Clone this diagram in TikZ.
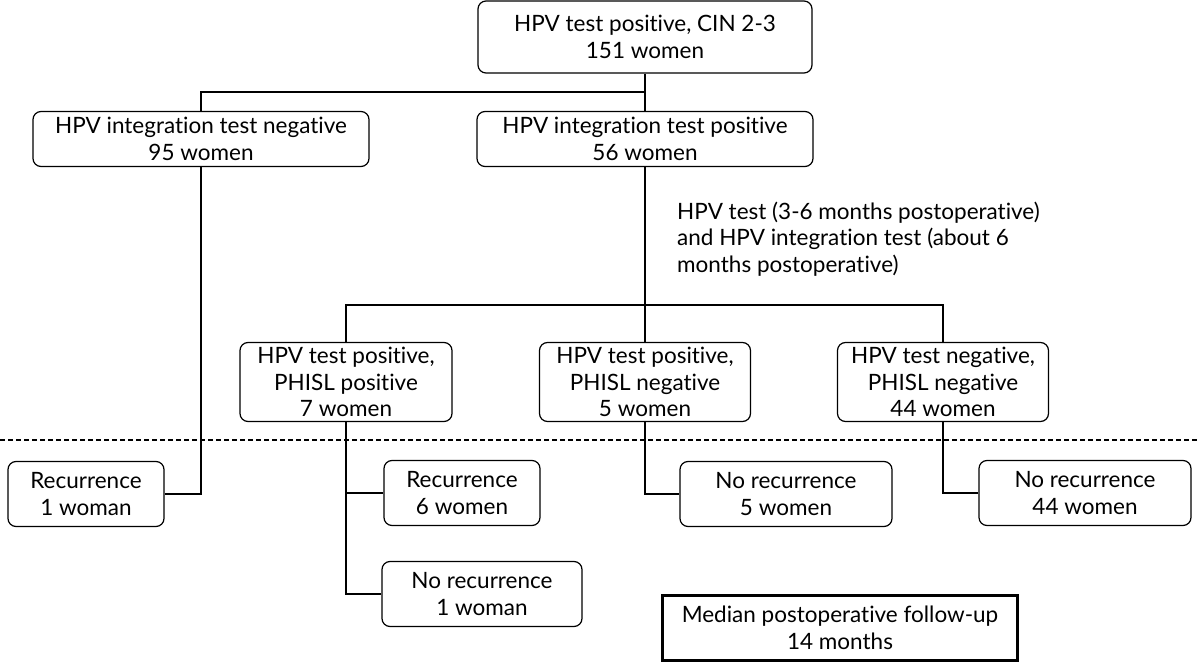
\documentclass[tikz,border=0pt]{standalone}
\usepackage{fontspec}
\setmainfont{Lato}[Ligatures=NoCommon]
\usepackage{tikz}
\tikzstyle{box}=[draw=black, line width=1.2pt, rounded corners=8pt, align=center, inner sep=0pt, font=\fontsize{22.5}{26.5}\selectfont]
\tikzstyle{note}=[align=left, inner sep=0pt, anchor=west, font=\fontsize{22.5}{26.5}\selectfont]
\tikzstyle{total}=[draw=black, line width=3.2pt, align=center, inner sep=0pt, font=\fontsize{22.5}{26.5}\selectfont]
\tikzstyle{edge}=[-, draw=black, line width=1.2pt]
\pgfdeclarelayer{nodelayer}
\pgfdeclarelayer{edgelayer}
\pgfsetlayers{edgelayer,nodelayer}

\begin{document}
\begin{tikzpicture}[x=1pt, y=-1pt]
	\useasboundingbox (0, 0) rectangle (1200, 663);
	\begin{pgfonlayer}{nodelayer}
		\node [style=box, minimum width=334, minimum height=72] (0) at (645, 37) {HPV test positive, CIN 2-3\\151 women};
		\node [style=box, minimum width=336, minimum height=55] (1) at (201, 139) {HPV integration test negative\\95 women};
		\node [style=box, minimum width=336, minimum height=55] (2) at (645, 139) {HPV integration test positive\\56 women};
		\node [style=note] (3) at (677, 239) {HPV test (3-6 months postoperative)\\and HPV integration test (about 6\\months postoperative)};
		\node [style=box, minimum width=212, minimum height=79] (4) at (346, 382) {HPV test positive,\\PHISL positive\\7 women};
		\node [style=box, minimum width=211, minimum height=79] (5) at (645, 382) {HPV test positive,\\PHISL negative\\5 women};
		\node [style=box, minimum width=211, minimum height=79] (6) at (943, 382) {HPV test negative,\\PHISL negative\\44 women};
		\node [style=box, minimum width=156, minimum height=65] (7) at (86, 494) {Recurrence\\1 woman};
		\node [style=box, minimum width=156, minimum height=65] (8) at (462, 493) {Recurrence\\6 women};
		\node [style=box, minimum width=200, minimum height=65] (9) at (482, 594) {No recurrence\\1 woman};
		\node [style=box, minimum width=212, minimum height=65] (10) at (786, 494) {No recurrence\\5 women};
		\node [style=box, minimum width=212, minimum height=65] (11) at (1085, 493) {No recurrence\\44 women};
		\node [style=total, minimum width=355, minimum height=65] (12) at (840, 628) {Median postoperative follow-up\\14 months};
	\end{pgfonlayer}
	\begin{pgfonlayer}{edgelayer}
		\coordinate (j0) at (645, 92);
		\coordinate (j1) at (645, 305);
		\coordinate (d0) at (0, 440);
		\coordinate (d1) at (1200, 440);
		\draw [style=edge] (0.south) to (2.north);
		\draw [style=edge] (1.north) |- (j0);
		\draw [style=edge] (1.south) |- (7.east);
		\draw [style=edge] (2.south) to (5.north);
		\draw [style=edge] (4.north) |- (j1) -| (6.north);
		\draw [style=edge] (4.south) |- (8.west);
		\draw [style=edge] (4.south) |- (9.west);
		\draw [style=edge] (5.south) |- (10.west);
		\draw [style=edge] (6.south) |- (11.west);
		\draw [style=edge, dash pattern=on 5pt off 3pt] (d0) to (d1);
	\end{pgfonlayer}
\end{tikzpicture}
\end{document}
